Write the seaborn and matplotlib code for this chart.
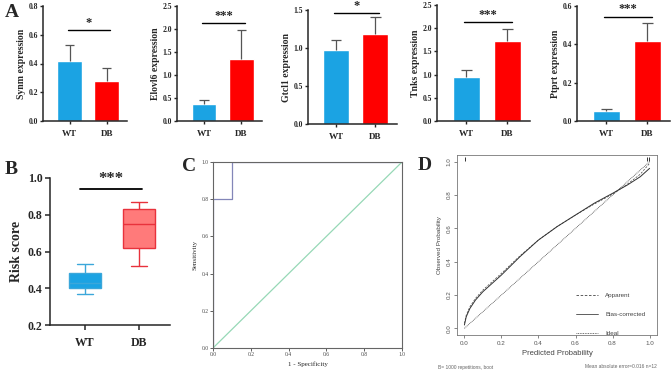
import numpy as np
import pandas as pd
import seaborn as sns
import matplotlib.pyplot as plt

sns.set_style("ticks")
plt.rcParams['font.family'] = ['Liberation Serif', 'DejaVu Serif']
plt.rcParams['axes.linewidth'] = 1.1

W, H = 671, 370

# ---- data ----
groups = ['WT', 'DB']
genes = ['Synm', 'Elovl6', 'Gtcl1', 'Tnks', 'Ptprt']
gene_means = [[0.42, 0.28], [0.36, 1.35], [0.97, 1.18], [0.95, 1.72], [0.05, 0.415]]
gene_sd = [[0.11, 0.09], [0.09, 0.62], [0.14, 0.23], [0.15, 0.26], [0.015, 0.095]]
gene_ymax = [0.8, 2.5, 1.5, 2.5, 0.6]
gene_ystep = [0.2, 0.5, 0.5, 0.5, 0.2]
gene_sig = ['*', '***', '*', '***', '***']
gene_sig_y = [0.63, 2.13, 1.46, 2.13, 0.545]

# risk score five-number summaries (min, q1, median, q3, max)
risk_wt = [0.37, 0.40, 0.43, 0.485, 0.53]
risk_db = [0.52, 0.62, 0.75, 0.83, 0.87]

# ROC curve
roc_fpr = [0.0, 0.0, 0.1, 0.1, 1.0]
roc_tpr = [0.0, 0.8, 0.8, 1.0, 1.0]

# calibration
cal_pred = [0.0, 0.01, 0.03, 0.06, 0.1, 0.15, 0.2, 0.3, 0.4, 0.5, 0.6, 0.7, 0.8, 0.88, 0.95, 1.0]
cal_bias = [0.02, 0.07, 0.12, 0.17, 0.22, 0.27, 0.32, 0.43, 0.53, 0.61, 0.68, 0.75, 0.81, 0.86, 0.91, 0.96]
cal_appar = [0.03, 0.08, 0.13, 0.18, 0.23, 0.28, 0.33, 0.435, 0.53, 0.61, 0.68, 0.745, 0.805, 0.865, 0.925, 0.99]
rug_x = [0.004, 0.985, 0.995]

blue = '#1BA3E3'
red = '#FF0000'


def px_axes(fig, l, t, r, b):
    return fig.add_axes([l / W, 1 - b / H, (r - l) / W, (b - t) / H])


fig = plt.figure(figsize=(W / 100, H / 100), dpi=100)

# ============================================================
# A: bar charts
# ============================================================
rects = [(43, 6, 127, 121), (177, 6, 262, 121), (308, 10, 397, 124),
         (437, 5, 530, 121), (577, 6, 670, 121)]
for i, gene in enumerate(genes):
    ax = px_axes(fig, *rects[i])
    df = pd.DataFrame({'group': groups, 'value': gene_means[i]})
    sns.barplot(data=df, x='group', y='value', hue='group', palette=[blue, red],
                legend=False, width=0.66, errorbar=None, ax=ax, saturation=1)
    tops = np.array(gene_means[i]) + np.array(gene_sd[i])
    ax.vlines([0, 1], gene_means[i], tops, color='#555555', lw=0.9, zorder=1)
    ax.hlines(tops, [-0.13, 0.87], [0.13, 1.13], color='#555555', lw=0.9, zorder=1)
    ax.set_xlim(-0.72, 1.55)
    ax.set_ylim(0, gene_ymax[i])
    ax.set_yticks(np.arange(0, gene_ymax[i] + 1e-9, gene_ystep[i]))
    ax.yaxis.set_major_formatter(plt.FormatStrFormatter('%.1f'))
    ax.set_xlabel('')
    ax.set_ylabel(f'{gene} expression', fontsize=7, fontweight='bold', labelpad=2)
    ax.tick_params(axis='y', labelsize=5.5, length=2.5, width=1, pad=1)
    ax.tick_params(axis='x', labelsize=6.5, length=2.5, width=1, pad=4)
    for lab in ax.get_xticklabels() + ax.get_yticklabels():
        lab.set_fontweight('bold')
    sns.despine(ax=ax)
    y = gene_sig_y[i]
    ax.plot([-0.05, 1.1], [y, y], color='black', lw=1, clip_on=False)
    ax.text(0.52, y + gene_ymax[i] * 0.01, gene_sig[i], ha='center', va='bottom',
            fontsize=9, fontweight='bold', clip_on=False)

fig.text(5 / W, 1 - 17 / H, 'A', fontsize=14, fontweight='bold')

# ============================================================
# B: risk score boxplot
# ============================================================
axb = px_axes(fig, 50, 178, 170, 325)
risk_df = pd.DataFrame({'group': ['WT'] * len(risk_wt) + ['DB'] * len(risk_db),
                        'score': risk_wt + risk_db})
sns.boxplot(data=risk_df, x='group', y='score', hue='group',
            palette=[blue, '#FF7A7A'], width=0.6, linewidth=1.0,
            legend=False, ax=axb, saturation=1, whis=3)
edge = {0: '#3BA7DA', 1: '#E8323C'}
for patch in axb.patches:
    xc = patch.get_path().vertices[:, 0].mean()
    patch.set_edgecolor(edge[0] if xc < 0.5 else edge[1])
for line in axb.lines:
    xd = np.asarray(line.get_xdata(), dtype=float)
    if len(xd):
        line.set_color(edge[0] if xd.mean() < 0.5 else edge[1])
axb.set_xlim(-0.65, 1.57)
axb.set_ylim(0.2, 1.0)
axb.set_yticks([0.2, 0.4, 0.6, 0.8, 1.0])
axb.yaxis.set_major_formatter(plt.FormatStrFormatter('%.1f'))
axb.set_xlabel('')
axb.set_ylabel('Risk score', fontsize=10, fontweight='bold', labelpad=3)
axb.tick_params(labelsize=8.5, length=3.5, width=1.1, pad=2)
axb.tick_params(axis='x', pad=5)
for lab in axb.get_xticklabels() + axb.get_yticklabels():
    lab.set_fontweight('bold')
sns.despine(ax=axb)
axb.plot([-0.1, 1.05], [0.94, 0.94], color='black', lw=1.3, clip_on=False)
axb.text(0.47, 0.95, '***', ha='center', va='bottom', fontsize=12, fontweight='bold')
fig.text(5 / W, 1 - 174 / H, 'B', fontsize=14, fontweight='bold')

# ============================================================
# C: ROC curve
# ============================================================
axc = px_axes(fig, 213, 162, 402, 348)
sns.lineplot(x=roc_fpr, y=roc_tpr, sort=False, estimator=None, color='#8386B8',
             lw=0.9, ax=axc)
sns.lineplot(x=[0, 1], y=[0, 1], color='#96D8B6', lw=0.9, ax=axc)
axc.set_xlim(0, 1)
axc.set_ylim(0, 1)
axc.set_xticks(np.arange(0, 1.01, 0.2))
axc.set_yticks(np.arange(0, 1.01, 0.2))
axc.xaxis.set_major_formatter(plt.FormatStrFormatter('%.1f'))
axc.yaxis.set_major_formatter(plt.FormatStrFormatter('%.1f'))
axc.tick_params(labelsize=4, length=2, width=0.6, pad=1, colors='#444444')
for s in axc.spines.values():
    s.set_color('#666666')
    s.set_linewidth(0.8)
axc.set_xlabel('1 - Specificity', fontsize=5, labelpad=3)
axc.set_ylabel('Sensitivity', fontsize=5, labelpad=3)
fig.text(182 / W, 1 - 171 / H, 'C', fontsize=14, fontweight='bold')

# ============================================================
# D: calibration curve
# ============================================================
sans = ['Liberation Sans', 'DejaVu Sans']
gray = '#444444'
axd = px_axes(fig, 457, 155, 657, 335)
sns.lineplot(x=[0, 1], y=[0, 1], color=gray, lw=0.6, ls=(0, (1, 1)), ax=axd)
sns.lineplot(x=cal_pred, y=cal_appar, color=gray, lw=0.5, ls=(0, (3, 2)), ax=axd)
sns.lineplot(x=cal_pred, y=cal_bias, color='#333333', lw=0.7, ax=axd)
axd.vlines(rug_x, 1.005, 1.03, color='#333333', lw=0.7)
axd.set_xlim(-0.04, 1.04)
axd.set_ylim(-0.04, 1.04)
axd.set_xticks(np.arange(0, 1.01, 0.2))
axd.set_yticks(np.arange(0, 1.01, 0.2))
axd.xaxis.set_major_formatter(plt.FormatStrFormatter('%.1f'))
axd.yaxis.set_major_formatter(plt.FormatStrFormatter('%.1f'))
axd.tick_params(labelsize=4.5, length=2, width=0.5, pad=2, colors='#555555')
for lab in axd.get_xticklabels() + axd.get_yticklabels():
    lab.set_family(sans)
for lab in axd.get_yticklabels():
    lab.set_rotation(90)
    lab.set_va('center')
for s in axd.spines.values():
    s.set_color('#777777')
    s.set_linewidth(0.6)
axd.set_xlabel('Predicted Probability', fontsize=5.5, family=sans, color=gray, labelpad=3)
axd.set_ylabel('Observed Probability', fontsize=4.5, family=sans, color=gray, labelpad=3)
leg = [('Apparent', (0, (3, 2))), ('Bias-corrected', '-'), ('Ideal', (0, (1, 1)))]
for k, (name, ls) in enumerate(leg):
    yy = 0.2 - k * 0.115
    axd.plot([0.6, 0.72], [yy, yy], color=gray, lw=0.6, ls=ls)
    axd.text(0.76, yy, name, fontsize=4.5, family=sans, color=gray, va='center')
fig.text(438 / W, 1 - 367 / H, 'B= 1000 repetitions, boot', fontsize=3.5, family=sans,
         color='#666666', va='center')
fig.text(657 / W, 1 - 367 / H, 'Mean absolute error=0.016 n=12', fontsize=3.5,
         family=sans, color='#666666', va='center', ha='right')
fig.text(418 / W, 1 - 170 / H, 'D', fontsize=14, fontweight='bold')

fig.savefig('out.png', dpi=100)
